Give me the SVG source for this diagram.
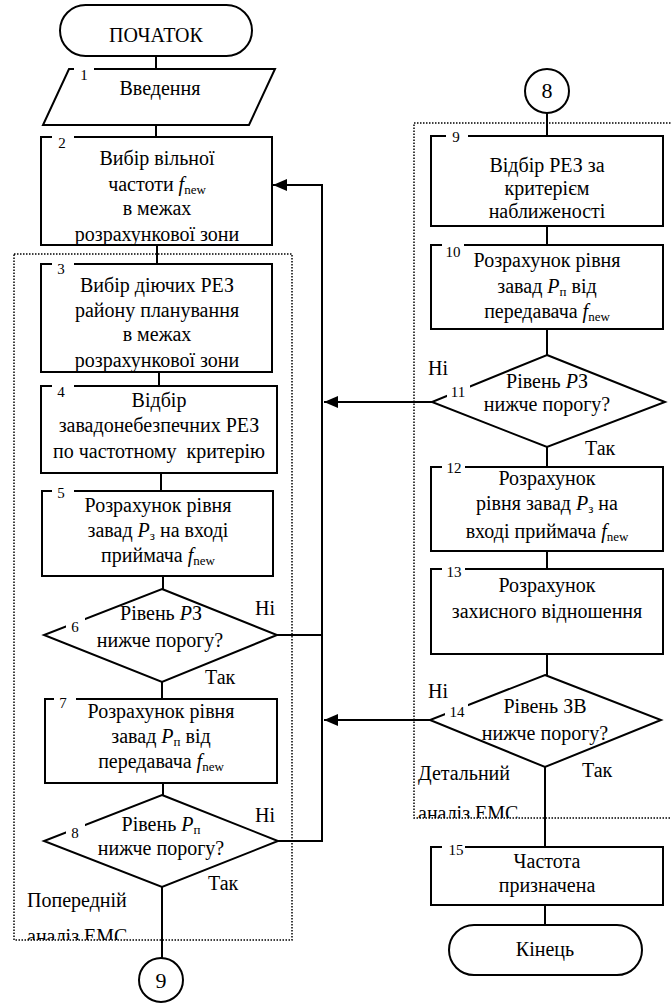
<svg xmlns="http://www.w3.org/2000/svg" width="671" height="1003" viewBox="0 0 671 1003">
<style>
text{font-family:"Liberation Serif","DejaVu Serif",Times,serif;font-size:20px;fill:#000}
.c{text-anchor:middle}
.n{font-size:15px}
.i{font-style:italic}
.s{font-size:13px}
.sh{fill:#fff;stroke:#000;stroke-width:2}
.w{fill:#fff;stroke:none}
.ln{fill:none;stroke:#000;stroke-width:2}
.dot{fill:none;stroke:#000;stroke-width:1.5;stroke-dasharray:1.5,1.5}
</style>
<defs>
<marker id="ah" markerWidth="14" markerHeight="12" refX="14" refY="6" orient="auto" markerUnits="userSpaceOnUse">
<path d="M0,0 L14,6 L0,12 Z" fill="#000"/>
</marker>
<clipPath id="cb2"><rect x="41" y="137" width="231" height="107"/></clipPath>
<clipPath id="cb3"><rect x="41" y="264" width="231" height="107"/></clipPath>
<clipPath id="cl1"><rect x="0" y="890" width="300" height="50"/></clipPath>
<clipPath id="cl2"><rect x="400" y="770" width="271" height="48"/></clipPath>
</defs>

<g id="regions">
<rect class="dot" x="14" y="254" width="278" height="686"/>
<rect class="dot" x="414" y="123" width="262" height="695"/>
<text x="27" y="907">Попередній</text>
<text x="27" y="943" clip-path="url(#cl1)">аналіз ЕМС</text>
<text x="418" y="780">Детальний</text>
<text x="418" y="820" clip-path="url(#cl2)">аналіз ЕМС</text>
</g>

<g id="connectors">
<path class="ln" d="M156,56 V69"/>
<path class="ln" d="M156,125 V137"/>
<path class="ln" d="M157,245 V264"/>
<path class="ln" d="M159,372 V386"/>
<path class="ln" d="M161,473 V491"/>
<path class="ln" d="M163,576 V589"/>
<path class="ln" d="M162,682 V699"/>
<path class="ln" d="M163,783 V795"/>
<path class="ln" d="M162,887 V958"/>
<path class="ln" d="M277,635 H322"/>
<path class="ln" d="M278,841 H322 V185 H273" marker-end="url(#ah)"/>
<path class="ln" d="M547,113 V136"/>
<path class="ln" d="M547,226 V245"/>
<path class="ln" d="M547,329 V355"/>
<path class="ln" d="M547,447 V467"/>
<path class="ln" d="M547,551 V569"/>
<path class="ln" d="M547,654 V675"/>
<path class="ln" d="M545,767 V847"/>
<path class="ln" d="M545,905 V925"/>
<path class="ln" d="M432,402 H324" marker-end="url(#ah)"/>
<path class="ln" d="M430,720 H324" marker-end="url(#ah)"/>
<text x="255" y="615">Ні</text>
<text x="205" y="684">Так</text>
<text x="255" y="822">Ні</text>
<text x="208" y="890">Так</text>
<text x="428" y="375">Ні</text>
<text x="585" y="455">Так</text>
<text x="428" y="698">Ні</text>
<text x="582" y="777">Так</text>
</g>

<g id="start">
<rect class="sh" x="60" y="5" width="192" height="51" rx="25.5"/>
<text class="c" x="156" y="42">ПОЧАТОК</text>
</g>

<g id="n1">
<path class="sh" d="M69,69 H275 L249,125 H43 Z"/>
<rect class="w" x="74" y="64" width="20" height="10"/>
<text class="n" x="84" y="80" text-anchor="middle">1</text>
<text class="c" x="160" y="95">Введення</text>
</g>

<g id="n2">
<rect class="sh" x="41" y="137" width="231" height="108"/>
<rect class="w" x="52" y="132" width="22" height="10"/>
<text class="n" x="62" y="148" text-anchor="middle">2</text>
<g clip-path="url(#cb2)">
<text class="c" x="157" y="165">Вибір вільної</text>
<text class="c" x="157" y="191">частоти <tspan class="i">f</tspan><tspan class="s" dy="3">new</tspan></text>
<text class="c" x="157" y="215">в межах</text>
<text class="c" x="157" y="241">розрахункової зони</text>
</g>
</g>

<g id="n3">
<rect class="sh" x="41" y="264" width="231" height="108"/>
<rect class="w" x="52" y="259" width="22" height="10"/>
<text class="n" x="61" y="274" text-anchor="middle">3</text>
<g clip-path="url(#cb3)">
<text class="c" x="157" y="292">Вибір діючих РЕЗ</text>
<text class="c" x="157" y="317">району планування</text>
<text class="c" x="157" y="341">в межах</text>
<text class="c" x="157" y="367">розрахункової зони</text>
</g>
</g>

<g id="n4">
<rect class="sh" x="41" y="386" width="236" height="87"/>
<rect class="w" x="52" y="381" width="22" height="10"/>
<text class="n" x="61" y="397" text-anchor="middle">4</text>
<text class="c" x="159" y="407">Відбір</text>
<text class="c" x="159" y="432">завадонебезпечних РЕЗ</text>
<text class="c" x="159" y="458" xml:space="preserve">по частотному  критерію</text>
</g>

<g id="n5">
<rect class="sh" x="42" y="491" width="231" height="85"/>
<rect class="w" x="52" y="486" width="22" height="10"/>
<text class="n" x="61" y="498" text-anchor="middle">5</text>
<text class="c" x="158" y="512">Розрахунок рівня</text>
<text class="c" x="158" y="537">завад <tspan class="i">P</tspan><tspan class="s" dy="3">з</tspan><tspan dy="-3"> на вході</tspan></text>
<text class="c" x="158" y="562">приймача <tspan class="i">f</tspan><tspan class="s" dy="3">new</tspan></text>
</g>

<g id="n6">
<path class="sh" d="M162,589 L277,635 L162,682 L44,635 Z"/>
<rect class="w" x="66" y="618" width="19" height="16"/>
<text class="n" x="75" y="632" text-anchor="middle">6</text>
<text class="c" x="161" y="620">Рівень <tspan class="i">P</tspan>З</text>
<text class="c" x="160" y="647">нижче порогу?</text>
</g>

<g id="n7">
<rect class="sh" x="45" y="699" width="232" height="84"/>
<rect class="w" x="54" y="694" width="22" height="10"/>
<text class="n" x="63" y="708" text-anchor="middle">7</text>
<text class="c" x="161" y="718">Розрахунок рівня</text>
<text class="c" x="161" y="743">завад <tspan class="i">P</tspan><tspan class="s" dy="3">п</tspan><tspan dy="-3"> від</tspan></text>
<text class="c" x="161" y="768">передавача <tspan class="i">f</tspan><tspan class="s" dy="3">new</tspan></text>
</g>

<g id="n8">
<path class="sh" d="M162,795 L278,841 L162,887 L44,841 Z"/>
<rect class="w" x="66" y="824" width="19" height="16"/>
<text class="n" x="75" y="838" text-anchor="middle">8</text>
<text class="c" x="161" y="831">Рівень <tspan class="i">P</tspan><tspan class="s" dy="3">п</tspan></text>
<text class="c" x="161" y="855">нижче порогу?</text>
</g>

<g id="c9">
<circle class="sh" cx="161" cy="980" r="22"/>
<text class="c" x="161" y="988" style="font-size:22px">9</text>
</g>

<g id="c8">
<circle class="sh" cx="547" cy="91" r="22"/>
<text class="c" x="547" y="98" style="font-size:22px">8</text>
</g>

<g id="n9">
<rect class="sh" x="431" y="136" width="232" height="90"/>
<rect class="w" x="446" y="131" width="22" height="10"/>
<text class="n" x="456" y="142" text-anchor="middle">9</text>
<text class="c" x="547" y="172">Відбір РЕЗ за</text>
<text class="c" x="547" y="195">критерієм</text>
<text class="c" x="547" y="218">наближеності</text>
</g>

<g id="n10">
<rect class="sh" x="431" y="245" width="232" height="84"/>
<rect class="w" x="442" y="240" width="22" height="10"/>
<text class="n" x="453" y="257" text-anchor="middle">10</text>
<text class="c" x="547" y="267">Розрахунок рівня</text>
<text class="c" x="547" y="293">завад <tspan class="i">P</tspan><tspan class="s" dy="3">п</tspan><tspan dy="-3"> від</tspan></text>
<text class="c" x="547" y="318">передавача <tspan class="i">f</tspan><tspan class="s" dy="3">new</tspan></text>
</g>

<g id="n11">
<path class="sh" d="M547,355 L665,402 L547,447 L432,402 Z"/>
<rect class="w" x="447" y="384" width="23" height="16"/>
<text class="n" x="458" y="397" text-anchor="middle">11</text>
<text class="c" x="547" y="388">Рівень <tspan class="i">P</tspan>З</text>
<text class="c" x="547" y="411">нижче порогу?</text>
</g>

<g id="n12">
<rect class="sh" x="431" y="467" width="232" height="84"/>
<rect class="w" x="442" y="462" width="23" height="10"/>
<text class="n" x="454" y="473" text-anchor="middle">12</text>
<text class="c" x="547" y="485">Розрахунок</text>
<text class="c" x="547" y="510">рівня завад <tspan class="i">P</tspan><tspan class="s" dy="3">з</tspan><tspan dy="-3"> на</tspan></text>
<text class="c" x="547" y="538">вході приймача <tspan class="i">f</tspan><tspan class="s" dy="3">new</tspan></text>
</g>

<g id="n13">
<rect class="sh" x="431" y="569" width="232" height="85"/>
<rect class="w" x="442" y="564" width="23" height="10"/>
<text class="n" x="454" y="577" text-anchor="middle">13</text>
<text class="c" x="547" y="592">Розрахунок</text>
<text class="c" x="547" y="618">захисного відношення</text>
</g>

<g id="n14">
<path class="sh" d="M545,675 L661,720 L545,767 L430,720 Z"/>
<rect class="w" x="445" y="703" width="23" height="16"/>
<text class="n" x="457" y="717" text-anchor="middle">14</text>
<text class="c" x="545" y="713">Рівень ЗВ</text>
<text class="c" x="545" y="740">нижче порогу?</text>
</g>

<g id="n15">
<rect class="sh" x="431" y="847" width="232" height="58"/>
<rect class="w" x="442" y="842" width="23" height="10"/>
<text class="n" x="456" y="855" text-anchor="middle">15</text>
<text class="c" x="547" y="868">Частота</text>
<text class="c" x="547" y="892">призначена</text>
</g>

<g id="end">
<rect class="sh" x="449" y="925" width="193" height="50" rx="25"/>
<text class="c" x="545" y="956">Кінець</text>
</g>
</svg>
